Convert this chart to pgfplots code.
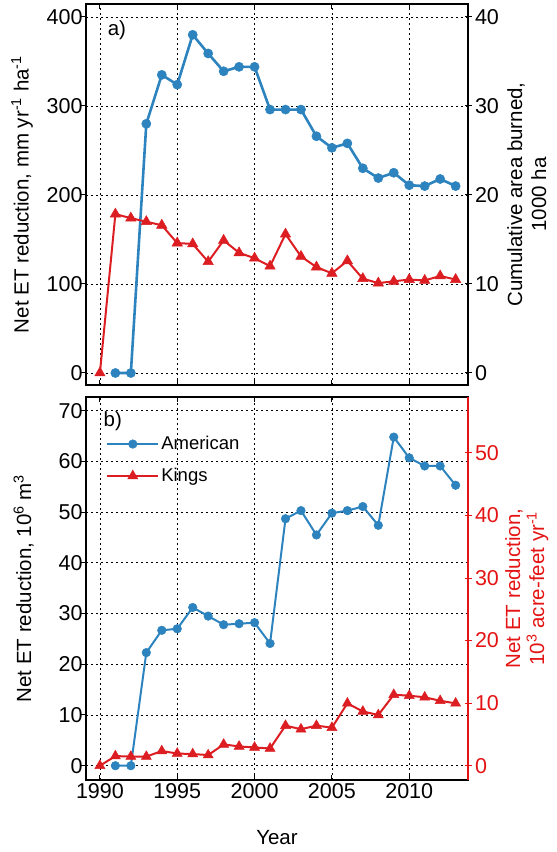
\documentclass[border=0pt]{standalone}
\usepackage{fontspec}
\setmainfont{Liberation Sans}
\usepackage{pgfplots}
\pgfplotsset{compat=1.18}
\definecolor{amblue}{RGB}{45,131,190}
\definecolor{kgred}{RGB}{220,30,35}
\definecolor{axred}{RGB}{228,20,20}

\pgfplotsset{
  common/.style={
    scale only axis, width=382pt,
    xmin=1989.1, xmax=2013.8,
    axis line style={line width=1.2pt},
    every tick/.style={line width=1pt},
    tick label style={font=\fontsize{21.5}{24}\selectfont},
    label style={font=\fontsize{20.5}{24}\selectfont},
    /pgf/number format/assume math mode=true,
    /pgf/number format/set thousands separator={},
  },
  panel/.style={
    common,
    xtick={1990,1995,...,2010},
    tick align=inside, xtick pos=both, ytick pos=left,
    major tick length=5pt,
    ytick style={xshift=-5pt},
    xmajorgrids=true, ymajorgrids=true,
    grid style={black, line width=0.8pt, dash pattern=on 2pt off 3pt},
  },
  rightside/.style={
    common,
    axis y line*=right, axis x line=none,
    tick align=center, major tick length=7pt,
  },
}

\begin{document}
\begin{tikzpicture}
% ---- a) mm/yr/ha
\begin{axis}[panel, at={(0,0)}, anchor=north west, height=381pt,
  ymin=-13.5, ymax=414.6, ytick={0,100,...,400}, xticklabels={},
  ylabel={Net ET reduction, mm yr\textsuperscript{-1} ha\textsuperscript{-1}},
  ylabel style={at={(rel axis cs:-0.1675,0.5)}, anchor=center},
]
\addplot[amblue, line width=2.6pt, mark=*, mark size=4.6pt, mark options={line width=0.5pt}]
  coordinates {(1991,0) (1992,0) (1993,280) (1994,335) (1995,324) (1996,380)
  (1997,359) (1998,339) (1999,344) (2000,344) (2001,296) (2002,296) (2003,296)
  (2004,266) (2005,253) (2006,258) (2007,230) (2008,219) (2009,225) (2010,211)
  (2011,210) (2012,218) (2013,210)};
\addplot[kgred, line width=2pt, mark=triangle*, mark size=6pt, mark options={line width=0.5pt}]
  coordinates {(1990,0) (1991,178.5) (1992,174) (1993,170) (1994,166) (1995,146)
  (1996,145) (1997,125) (1998,149) (1999,135) (2000,129) (2001,120) (2002,156)
  (2003,131) (2004,119) (2005,112) (2006,126) (2007,106) (2008,101) (2009,103)
  (2010,105) (2011,104) (2012,109) (2013,105)};
\node[font=\fontsize{20.5}{24}\selectfont] at (rel axis cs:0.081,0.932) {a)};
\end{axis}
\begin{axis}[rightside, at={(0,0)}, anchor=north west, height=381pt,
  ymin=-1.35, ymax=41.46, ytick={0,10,...,40},
  ylabel={Cumulative area burned,\\1000 ha},
  ylabel style={align=center, at={(rel axis cs:1.154,0.5)}, anchor=center},
]
\end{axis}

% ---- b) 10^6 m^3
\begin{axis}[panel, at={(0,-393pt)}, anchor=north west, height=383pt,
  ymin=-2.82, ymax=72.7, ytick={0,10,...,70},
  xlabel={Year},
  xlabel style={at={(rel axis cs:0.5,-0.151)}, anchor=center},
  ylabel={Net ET reduction, 10\textsuperscript{6} m\textsuperscript{3}},
  ylabel style={at={(rel axis cs:-0.163,0.5)}, anchor=center},
  legend style={at={(rel axis cs:0.05,0.905)}, anchor=north west,
    draw=none, fill=none, font=\fontsize{18.5}{22}\selectfont,
    row sep=13pt, inner sep=1pt},
  legend cell align=left,
  legend image code/.code={\draw[mark repeat=2,mark phase=2]
    plot coordinates {(0pt,0pt) (25.5pt,0pt) (51pt,0pt)};},
]
\addplot[amblue, line width=2pt, mark=*, mark size=4.3pt, mark options={line width=0.5pt}]
  coordinates {(1991,0) (1992,0) (1993,22.3) (1994,26.7) (1995,27.0) (1996,31.2)
  (1997,29.5) (1998,27.8) (1999,28.0) (2000,28.2) (2001,24.1) (2002,48.7)
  (2003,50.3) (2004,45.5) (2005,49.8) (2006,50.3) (2007,51.1) (2008,47.4)
  (2009,64.8) (2010,60.7) (2011,59.1) (2012,59.1) (2013,55.3)};
\addlegendentry{American}
\addplot[kgred, line width=2pt, mark=triangle*, mark size=5.8pt, mark options={line width=0.5pt}]
  coordinates {(1990,0) (1991,1.9) (1992,1.8) (1993,1.8) (1994,2.9) (1995,2.4)
  (1996,2.3) (1997,2.1) (1998,4.2) (1999,3.8) (2000,3.6) (2001,3.4) (2002,7.9)
  (2003,7.2) (2004,7.9) (2005,7.5) (2006,12.3) (2007,10.7) (2008,10.0)
  (2009,14.0) (2010,13.8) (2011,13.5) (2012,12.8) (2013,12.3)};
\addlegendentry{Kings}
\node[font=\fontsize{20.5}{24}\selectfont] at (rel axis cs:0.07,0.937) {b)};
\end{axis}
\begin{axis}[rightside, at={(0,-393pt)}, anchor=north west, height=383pt,
  ymin=-2.29, ymax=58.94, ytick={0,10,...,50},
  y axis line style={axred}, ytick style={axred}, yticklabel style={axred},
  ylabel={Net ET reduction,\\10\textsuperscript{3} acre-feet yr\textsuperscript{-1}},
  ylabel style={axred, align=center, at={(rel axis cs:1.154,0.5)}, anchor=center},
]
\end{axis}

\pgfresetboundingbox
\path[use as bounding box] (-86pt,4pt) rectangle (471pt,-848pt);
\end{tikzpicture}
\end{document}
